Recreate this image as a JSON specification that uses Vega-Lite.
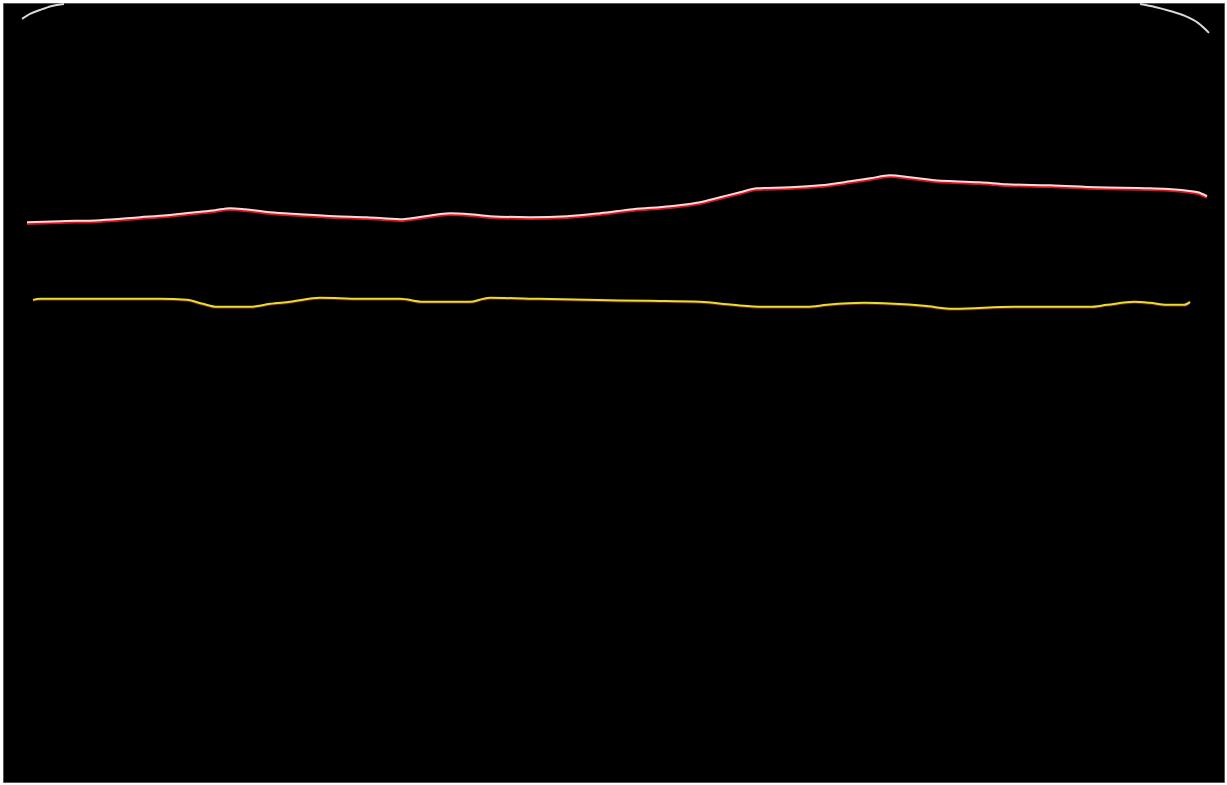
{
  "$schema": "https://vega.github.io/schema/vega-lite/v6.json",
  "width": 1227,
  "height": 785,
  "autosize": {"type": "fit", "contains": "padding"},
  "padding": {"left": 3, "right": 3, "top": 0, "bottom": 3},
  "background": "#ffffff",
  "config": {"view": {"fill": "#000000", "stroke": "#555555", "strokeWidth": 1}},
  "datasets": {
    "ilm": [
      {"col": 27, "depth": 220}, {"col": 60, "depth": 219}, {"col": 100, "depth": 218},
      {"col": 140, "depth": 215}, {"col": 167, "depth": 213}, {"col": 195, "depth": 210},
      {"col": 215, "depth": 208}, {"col": 230, "depth": 206}, {"col": 245, "depth": 207},
      {"col": 270, "depth": 210}, {"col": 300, "depth": 212}, {"col": 335, "depth": 214},
      {"col": 367, "depth": 215}, {"col": 400, "depth": 217}, {"col": 425, "depth": 214},
      {"col": 450, "depth": 211}, {"col": 470, "depth": 212}, {"col": 490, "depth": 214},
      {"col": 530, "depth": 215}, {"col": 567, "depth": 214}, {"col": 600, "depth": 211},
      {"col": 633, "depth": 207}, {"col": 670, "depth": 204}, {"col": 700, "depth": 200},
      {"col": 720, "depth": 195}, {"col": 740, "depth": 190}, {"col": 757, "depth": 186},
      {"col": 790, "depth": 185}, {"col": 820, "depth": 183}, {"col": 850, "depth": 179},
      {"col": 870, "depth": 176}, {"col": 890, "depth": 173}, {"col": 910, "depth": 175},
      {"col": 935, "depth": 178}, {"col": 954, "depth": 179}, {"col": 980, "depth": 180},
      {"col": 1007, "depth": 182}, {"col": 1050, "depth": 183}, {"col": 1097, "depth": 185},
      {"col": 1150, "depth": 186}, {"col": 1184, "depth": 188}, {"col": 1198, "depth": 190},
      {"col": 1207, "depth": 194}
    ],
    "rpe": [
      {"col": 33, "depth": 298}, {"col": 40, "depth": 297}, {"col": 100, "depth": 297},
      {"col": 160, "depth": 297}, {"col": 187, "depth": 298}, {"col": 203, "depth": 302},
      {"col": 217, "depth": 305}, {"col": 250, "depth": 305}, {"col": 270, "depth": 302},
      {"col": 290, "depth": 300}, {"col": 320, "depth": 296}, {"col": 360, "depth": 297},
      {"col": 400, "depth": 297}, {"col": 423, "depth": 300}, {"col": 470, "depth": 300},
      {"col": 483, "depth": 297}, {"col": 490, "depth": 296}, {"col": 540, "depth": 297},
      {"col": 587, "depth": 298}, {"col": 650, "depth": 299}, {"col": 700, "depth": 300},
      {"col": 733, "depth": 303}, {"col": 767, "depth": 305}, {"col": 807, "depth": 305},
      {"col": 827, "depth": 303}, {"col": 864, "depth": 301}, {"col": 894, "depth": 302},
      {"col": 924, "depth": 304}, {"col": 954, "depth": 307}, {"col": 1014, "depth": 305},
      {"col": 1060, "depth": 305}, {"col": 1090, "depth": 305}, {"col": 1107, "depth": 303},
      {"col": 1134, "depth": 300}, {"col": 1150, "depth": 301}, {"col": 1167, "depth": 303},
      {"col": 1184, "depth": 303}, {"col": 1190, "depth": 300}
    ],
    "cornerL": [
      {"col": 22, "depth": 16}, {"col": 30, "depth": 11}, {"col": 40, "depth": 7},
      {"col": 52, "depth": 3}, {"col": 64, "depth": 1}
    ],
    "cornerR": [
      {"col": 1140, "depth": 1}, {"col": 1155, "depth": 4}, {"col": 1170, "depth": 8},
      {"col": 1185, "depth": 13}, {"col": 1198, "depth": 20}, {"col": 1209, "depth": 30}
    ]
  },
  "encoding": {
    "x": {"field": "col", "type": "quantitative", "scale": {"domain": [3, 1224], "nice": false, "zero": false}, "axis": null},
    "y": {"field": "depth", "type": "quantitative", "scale": {"domain": [0, 782], "reverse": true, "nice": false, "zero": false}, "axis": null}
  },
  "layer": [
    {"data": {"name": "cornerL"}, "mark": {"type": "line", "color": "#d8d8d8", "strokeWidth": 2, "interpolate": "monotone"}},
    {"data": {"name": "cornerR"}, "mark": {"type": "line", "color": "#d8d8d8", "strokeWidth": 2, "interpolate": "monotone"}},
    {"data": {"name": "ilm"}, "mark": {"type": "line", "color": "#e0101a", "strokeWidth": 2.5, "yOffset": 1.5, "interpolate": "monotone"}},
    {"data": {"name": "ilm"}, "mark": {"type": "line", "color": "#f2dede", "strokeWidth": 2, "interpolate": "monotone"}},
    {"data": {"name": "rpe"}, "mark": {"type": "line", "color": "#c03018", "strokeWidth": 2, "yOffset": 1, "opacity": 0.6, "interpolate": "monotone"}},
    {"data": {"name": "rpe"}, "mark": {"type": "line", "color": "#e4e030", "strokeWidth": 2, "interpolate": "monotone"}}
  ]
}
